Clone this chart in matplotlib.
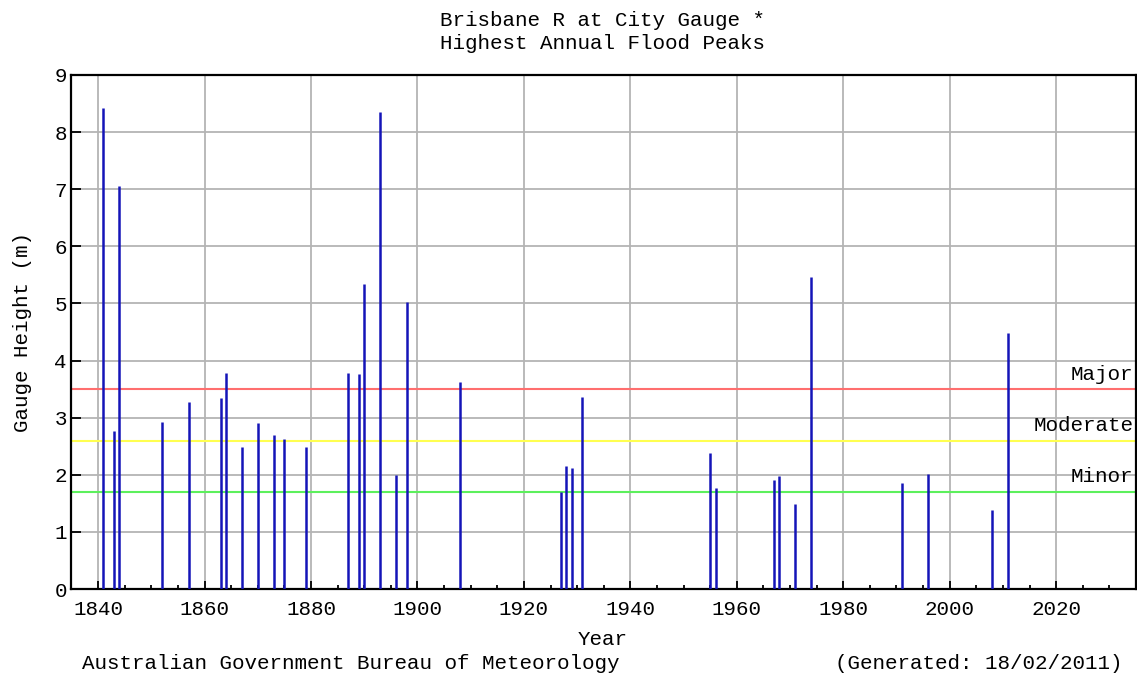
import matplotlib
matplotlib.use("Agg")
import matplotlib.pyplot as plt
import matplotlib.transforms as mtransforms
from matplotlib.ticker import MultipleLocator

# highest annual flood peaks (year, gauge height in m)
years = [1841, 1843, 1844, 1852, 1857, 1863, 1864, 1867, 1870, 1873, 1875, 1879,
         1887, 1889, 1890, 1893, 1896, 1898, 1908,
         1927, 1928, 1929, 1931,
         1955, 1956, 1967, 1968, 1971, 1974,
         1991, 1996, 2008, 2011]
heights = [8.43, 2.77, 7.05, 2.93, 3.28, 3.35, 3.79, 2.48, 2.90, 2.69, 2.63, 2.48,
           3.79, 3.76, 5.34, 8.36, 1.99, 5.02, 3.62,
           1.70, 2.15, 2.12, 3.36,
           2.38, 1.77, 1.91, 1.98, 1.49, 5.46,
           1.85, 2.01, 1.39, 4.48]

levels = [3.5, 2.6, 1.7]
level_names = ["Major", "Moderate", "Minor"]
level_colors = ["#ff6e6e", "#ffff50", "#5cf05c"]

FONT = "Liberation Mono"
FS = 15

plt.rcParams["font.family"] = [FONT, "DejaVu Sans Mono"]

fig = plt.figure(figsize=(11.37, 6.75), dpi=100)
ax = fig.add_axes([0.0624, 0.1274, 0.9367, 0.7615])

ax.set_xlim(1834.9, 2035)
ax.set_ylim(0, 9)

ax.xaxis.set_major_locator(MultipleLocator(20))
ax.xaxis.set_minor_locator(MultipleLocator(5))
ax.yaxis.set_major_locator(MultipleLocator(1))

ax.grid(True, which="major", color="#b4b4b4", linewidth=1.3, zorder=0)
ax.set_axisbelow(True)

for lvl, col in zip(levels, level_colors):
    ax.axhline(lvl, color=col, linewidth=1.5, zorder=2)

ax.vlines(years, 0, heights, colors="#1414b8", linewidth=1.8, zorder=3)

trans = mtransforms.blended_transform_factory(ax.transAxes, ax.transData)
for lvl, name in zip(levels, level_names):
    ax.annotate(name, xy=(1, lvl), xycoords=trans, xytext=(-2, 4),
                textcoords="offset points", ha="right", va="bottom",
                fontsize=FS, zorder=4)

ax.tick_params(axis="x", which="major", direction="in", length=6, width=1.3,
               labelsize=FS, pad=8)
ax.tick_params(axis="x", which="minor", direction="in", length=3, width=1.3)
ax.tick_params(axis="y", which="major", direction="in", length=7, width=1.3,
               labelsize=FS, pad=3)

for sp in ax.spines.values():
    sp.set_linewidth(1.6)
    sp.set_color("black")

ax.set_ylabel("Gauge Height (m)", fontsize=FS, labelpad=16)

fig.text(0.530, 0.970, "Brisbane R at City Gauge *", ha="center", va="center",
         fontsize=FS)
fig.text(0.530, 0.936, "Highest Annual Flood Peaks", ha="center", va="center",
         fontsize=FS)
fig.text(0.530, 0.053, "Year", ha="center", va="center", fontsize=FS)
fig.text(0.072, 0.017, "Australian Government Bureau of Meteorology",
         ha="left", va="center", fontsize=FS)
fig.text(0.987, 0.017, "(Generated: 18/02/2011)", ha="right", va="center",
         fontsize=FS)

fig.savefig("out.png", dpi=100)
